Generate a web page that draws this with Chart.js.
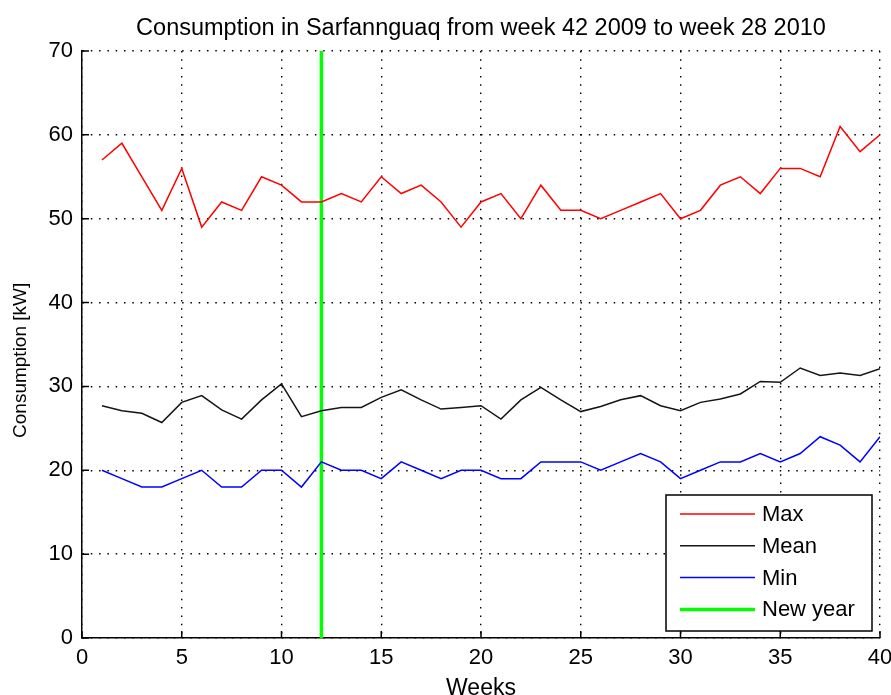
<!DOCTYPE html>
<html>
<head>
<meta charset="utf-8">
<script src="https://cdn.jsdelivr.net/npm/chart.js@4"></script>
<style>
  html, body { margin: 0; padding: 0; background: #fff; }
  #wrap { width: 891px; height: 695px; }
</style>
</head>
<body>
<div id="wrap"><canvas id="myChart"></canvas></div>
<script>
var weeks = [1, 2, 3, 4, 5, 6, 7, 8, 9, 10, 11, 12, 13, 14, 15, 16, 17, 18, 19, 20,
             21, 22, 23, 24, 25, 26, 27, 28, 29, 30, 31, 32, 33, 34, 35, 36, 37, 38, 39, 40];
var maxValues = [57, 59, 55, 51, 56, 49, 52, 51, 55, 54, 52, 52, 53, 52, 55, 53, 54, 52, 49, 52,
                 53, 50, 54, 51, 51, 50, 51, 52, 53, 50, 51, 54, 55, 53, 56, 56, 55, 61, 58, 60];
var meanValues = [27.7, 27.1, 26.8, 25.7, 28.1, 28.9, 27.2, 26.1, 28.4, 30.3, 26.4, 27.1, 27.5, 27.5, 28.7, 29.6, 28.4, 27.3, 27.5, 27.7,
                  26.1, 28.4, 29.9, 28.4, 27.0, 27.6, 28.4, 28.9, 27.7, 27.1, 28.1, 28.5, 29.1, 30.6, 30.5, 32.2, 31.3, 31.6, 31.3, 32.1];
var minValues = [20, 19, 18, 18, 19, 20, 18, 18, 20, 20, 18, 21, 20, 20, 19, 21, 20, 19, 20, 20,
                 19, 19, 21, 21, 21, 20, 21, 22, 21, 19, 20, 21, 21, 22, 21, 22, 24, 23, 21, 24];
var newYearWeek = 12;
var newYearRange = [0, 70];

function pairs(xs, ys) {
    return xs.map(function (x, i) { return { x: x, y: ys[i] }; });
}

var font = "'Liberation Sans', Arial, sans-serif";

// matlab style: title centred over the axes, ticks pointing inwards
var matlabBits = {
    id: 'matlabBits',
    afterLayout: function (chart) {
        if (chart.titleBlock) {
            chart.titleBlock.left = chart.chartArea.left;
            chart.titleBlock.right = chart.chartArea.right;
        }
    },
    afterDraw: function (chart) {
        var ctx = chart.ctx;
        var a = chart.chartArea;
        var xs = chart.scales.x, ys = chart.scales.y;
        ctx.save();
        ctx.strokeStyle = '#000';
        ctx.lineWidth = 1.5;
        ctx.beginPath();
        xs.ticks.forEach(function (t) {
            var px = xs.getPixelForValue(t.value);
            ctx.moveTo(px, a.bottom);
            ctx.lineTo(px, a.bottom - 7);
        });
        ys.ticks.forEach(function (t) {
            var py = ys.getPixelForValue(t.value);
            ctx.moveTo(a.left, py);
            ctx.lineTo(a.left + 7, py);
        });
        ctx.stroke();
        ctx.restore();
    }
};

// legend drawn inside the plot, bottom right like the original
var insideLegend = {
    id: 'insideLegend',
    afterDatasetsDraw: function (chart) {
        var ctx = chart.ctx;
        var a = chart.chartArea;
        var w = 206, h = 136;
        var x0 = a.right - 8 - w, y0 = a.bottom - 7 - h;
        ctx.save();
        ctx.fillStyle = '#fff';
        ctx.fillRect(x0, y0, w, h);
        ctx.strokeStyle = '#000';
        ctx.lineWidth = 1.5;
        ctx.strokeRect(x0, y0, w, h);
        ctx.font = '22px ' + font;
        ctx.textBaseline = 'middle';
        chart.data.datasets.forEach(function (ds, i) {
            var y = y0 + 19 + i * 31.8;
            ctx.strokeStyle = ds.borderColor;
            ctx.lineWidth = ds.borderWidth;
            ctx.beginPath();
            ctx.moveTo(x0 + 14, y);
            ctx.lineTo(x0 + 89, y);
            ctx.stroke();
            ctx.fillStyle = '#000';
            ctx.fillText(ds.label, x0 + 96, y + 1);
        });
        ctx.restore();
    }
};

var myChart = document.getElementById('myChart');
var ctx = myChart.getContext('2d');
var chart = new Chart(ctx, {
    type: 'line',
    data: {
        datasets: [{
            label: 'Max',
            data: pairs(weeks, maxValues),
            borderColor: '#ff0000',
            borderWidth: 1.5,
            pointRadius: 0,
            tension: 0
        }, {
            label: 'Mean',
            data: pairs(weeks, meanValues),
            borderColor: '#151515',
            borderWidth: 1.5,
            pointRadius: 0,
            tension: 0
        }, {
            label: 'Min',
            data: pairs(weeks, minValues),
            borderColor: '#0000ff',
            borderWidth: 1.5,
            pointRadius: 0,
            tension: 0
        }, {
            label: 'New year',
            data: [{ x: newYearWeek, y: newYearRange[0] }, { x: newYearWeek, y: newYearRange[1] }],
            borderColor: '#00ff00',
            borderWidth: 3.5,
            pointRadius: 0
        }]
    },
    options: {
        responsive: true,
        maintainAspectRatio: false,
        animation: false,
        layout: {
            padding: { left: 0, right: 11, top: 0, bottom: 0 }
        },
        plugins: {
            legend: { display: false },
            tooltip: { enabled: false },
            title: {
                display: true,
                text: 'Consumption in Sarfannguaq from week 42 2009 to week 28 2010',
                color: '#000',
                font: { family: font, size: 23.5, weight: 'normal' },
                padding: { top: 14, bottom: 8.8 }
            }
        },
        scales: {
            x: {
                type: 'linear',
                min: 0,
                max: 40,
                ticks: { stepSize: 5, color: '#000', font: { family: font, size: 22 }, padding: 7 },
                grid: { color: '#000', lineWidth: 1.4, drawTicks: false },
                border: { display: true, color: '#000', width: 1.5, dash: [1.5, 6.8] },
                title: {
                    display: true,
                    text: 'Weeks',
                    color: '#000',
                    font: { family: font, size: 23 },
                    padding: { top: 0, bottom: -7 }
                },
                afterFit: function (s) { s.height = 57; s.paddingRight = 0; s.paddingLeft = 0; }
            },
            y: {
                min: 0,
                max: 70,
                ticks: { stepSize: 10, color: '#000', font: { family: font, size: 22 }, padding: 9 },
                grid: { color: '#000', lineWidth: 1.4, drawTicks: false },
                border: { display: true, color: '#000', width: 1.5, dash: [1.5, 6.8] },
                title: {
                    display: true,
                    text: 'Consumption [kW]      ',
                    color: '#000',
                    font: { family: font, size: 19 },
                    padding: { top: 9, bottom: 0 }
                },
                afterFit: function (s) { s.width = 82; }
            }
        }
    },
    plugins: [matlabBits, insideLegend]
});
</script>
</body>
</html>
